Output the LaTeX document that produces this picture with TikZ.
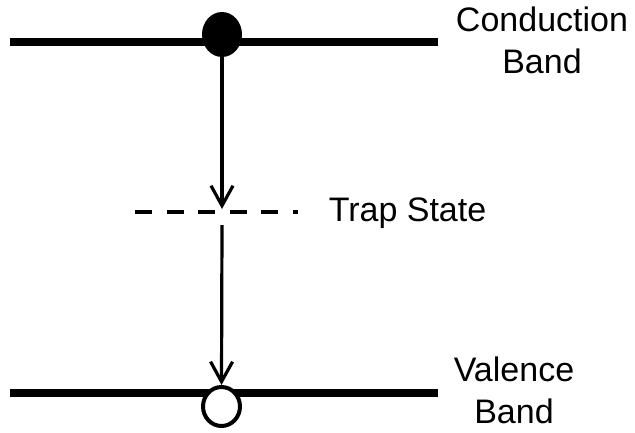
\documentclass[tikz,border=0pt]{standalone}
\usepackage{fontspec}
\setmainfont{Liberation Sans}
\usetikzlibrary{shapes.geometric,arrows.meta}
\begin{document}
\begin{tikzpicture}[x=1pt,y=-1pt,
  band/.style={line width=8pt},
  trapline/.style={line width=4pt,dash pattern=on 17pt off 14.5pt},
  transition/.style={line width=3.2pt,-{Straight Barb[length=20pt,width=22pt,line width=3.2pt]}},
  label/.style={font=\fontsize{34}{42}\selectfont,align=center,inner sep=0pt},
  carrier/.style={ellipse,inner sep=0pt}]
  \useasboundingbox (0,0) rectangle (635,432);
  % energy levels
  \coordinate (cbL) at (10,42);
  \coordinate (cbR) at (438,42);
  \coordinate (vbL) at (10,392.5);
  \coordinate (vbR) at (438,392.5);
  \coordinate (trL) at (135,211.5);
  \coordinate (trR) at (298,211.5);
  \draw[band] (cbL) -- (cbR);
  \draw[band] (vbL) -- (vbR);
  \draw[trapline] (trL) -- (trR);
  % electron and hole
  \node[carrier,fill=black,minimum width=40pt,minimum height=45pt] (electron) at (222,34.5) {};
  \node[carrier,draw=black,fill=white,line width=4pt,minimum width=37pt,minimum height=39pt] (hole) at (221.5,406.5) {};
  % recombination via the trap level
  \coordinate (trapin) at (222,209);
  \coordinate (trapout) at (222,225);
  \draw[transition] (electron.south) -- (trapin);
  \draw[transition] (trapout) -- (hole.north);
  % labels
  \node[label] (cblabel) at (542,40) {Conduction\\Band};
  \node[label] (trlabel) at (407.5,213) {Trap State};
  \node[label] (vblabel) at (514,390.5) {Valence\\Band};
\end{tikzpicture}
\end{document}
